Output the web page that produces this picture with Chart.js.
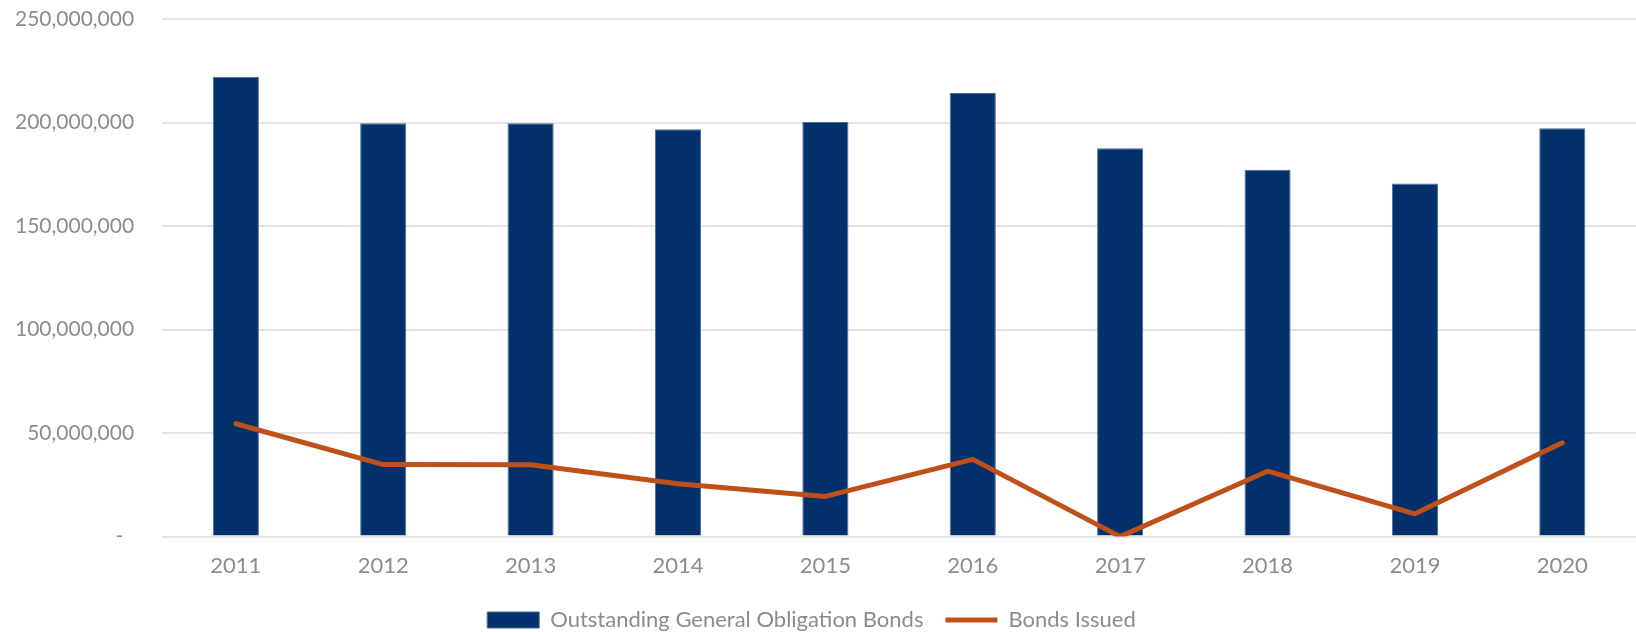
<!DOCTYPE html>
<html lang="en">
<head>
  <meta charset="UTF-8">
  <title>Outstanding General Obligation Bonds</title>
  <script src="https://cdn.jsdelivr.net/npm/chart.js"></script>
  <style>
    body, html {
      margin: 0;
      padding: 0;
      background: #fff;
    }
    #wrap {
      width: 1636px;
      height: 632px;
    }
  </style>
</head>
<body>
  <div id="wrap"><canvas id="grafico"></canvas></div>
  <script>
    const years = ["2011", "2012", "2013", "2014", "2015", "2016", "2017", "2018", "2019", "2020"];
    const outstanding = [222100000, 199700000, 199600000, 196800000, 200300000, 214200000, 187600000, 177200000, 170600000, 197200000];
    const issued = [54500000, 34800000, 34700000, 25500000, 19400000, 37300000, 0, 31600000, 11000000, 45300000];
    const yTicks = [0, 50000000, 100000000, 150000000, 200000000, 250000000];

    const fuente = "Lato, 'Open Sans', sans-serif";
    const gris = "#8c8c8c";

    const ctx = document.getElementById("grafico").getContext("2d");
    new Chart(ctx, {
      data: {
        labels: years,
        datasets: [
          {
            type: "line",
            label: "Bonds Issued",
            data: issued,
            borderColor: "#c0501a",
            backgroundColor: "#c0501a",
            borderWidth: 5,
            borderCapStyle: "round",
            borderJoinStyle: "round",
            pointRadius: 0,
            pointStyle: "line",
            tension: 0,
            order: 1
          },
          {
            type: "bar",
            label: "Outstanding General Obligation Bonds",
            data: outstanding,
            backgroundColor: "#02306a",
            borderColor: "#4d6d98",
            borderWidth: 1,
            pointStyle: "rect",
            categoryPercentage: 1,
            barPercentage: 0.313,
            order: 2
          }
        ]
      },
      options: {
        responsive: true,
        maintainAspectRatio: false,
        animation: false,
        layout: { padding: { top: 0, right: 0, left: -13, bottom: -9 } },
        plugins: {
          tooltip: { enabled: false },
          legend: {
            position: "bottom",
            reverse: true,
            labels: {
              usePointStyle: true,
              pointStyleWidth: 52,
              boxWidth: 52,
              boxHeight: 16,
              padding: 22,
              color: gris,
              font: { family: fuente, size: 22 }
            }
          }
        },
        scales: {
          x: {
            grid: { display: false },
            border: { display: false },
            ticks: {
              color: gris,
              padding: 8,
              font: { family: fuente, size: 22 }
            }
          },
          y: {
            min: 0,
            max: 250000000,
            afterBuildTicks: axis => {
              axis.ticks = yTicks.map(v => ({ value: v }));
            },
            // sin esto el padding de las etiquetas baja el techo del gráfico
            afterFit: axis => { axis.paddingTop = 19; },
            grid: { color: "#e3e3e3", lineWidth: 2, drawTicks: false },
            border: { display: false },
            ticks: {
              color: gris,
              padding: 28,
              font: { family: fuente, size: 21 },
              callback: v => v === 0 ? "-  " : v.toLocaleString("en-US")
            }
          }
        }
      }
    });
  </script>
</body>
</html>
